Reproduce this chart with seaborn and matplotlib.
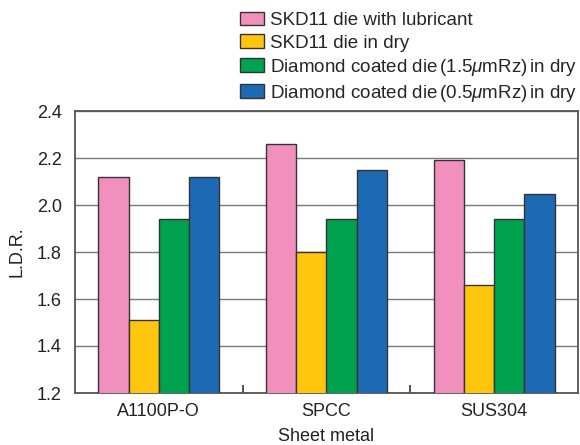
import pandas as pd
import numpy as np
import matplotlib.pyplot as plt
import seaborn as sns
from matplotlib.ticker import FixedLocator

sns.set_theme(style="white")
plt.rcParams['font.family'] = ['Liberation Sans', 'DejaVu Sans']
plt.rcParams['mathtext.fontset'] = 'custom'
plt.rcParams['mathtext.it'] = 'Liberation Sans:italic'
plt.rcParams['mathtext.rm'] = 'Liberation Sans'

# data
metals = ["A1100P-O", "SPCC", "SUS304"]
conditions = [
    "SKD11 die with lubricant",
    "SKD11 die in dry",
    "Diamond coated die$\\,$(1.5$\\mu$mRz)$\\,$in dry",
    "Diamond coated die$\\,$(0.5$\\mu$mRz)$\\,$in dry",
]
ldr_lubricant = [2.12, 2.26, 2.19]
ldr_skd11_dry = [1.51, 1.80, 1.66]
ldr_diamond_15 = [1.94, 1.94, 1.94]
ldr_diamond_05 = [2.12, 2.15, 2.045]
colors = ["#F290BD", "#FFC60D", "#00A250", "#1E69B4"]

rows = []
for cond, vals in zip(conditions, [ldr_lubricant, ldr_skd11_dry, ldr_diamond_15, ldr_diamond_05]):
    for m, v in zip(metals, vals):
        rows.append({"metal": m, "condition": cond, "ldr": v})
df = pd.DataFrame(rows)

fig = plt.figure(figsize=(5.8, 4.45), dpi=100)
ax = fig.add_axes([75/580, 1-393/445, 503/580, 282/445])

sns.barplot(data=df, x="metal", y="ldr", hue="condition", hue_order=conditions,
            palette=colors, width=0.72, edgecolor="#333333", linewidth=1.0,
            saturation=1, ax=ax, zorder=3, legend=True)

ax.set_ylim(1.2, 2.4)
ax.set_xlim(-0.5, 2.5)
ax.set_yticks(np.arange(1.2, 2.41, 0.2))
ax.set_yticklabels([f"{t:.1f}" for t in np.arange(1.2, 2.41, 0.2)])
ax.yaxis.grid(True, color="#7a7a7a", linewidth=1.0, zorder=0)
ax.set_axisbelow(True)
ax.xaxis.set_minor_locator(FixedLocator([0.5, 1.5]))
ax.tick_params(axis="x", which="minor", direction="in", length=6, width=1.2, color="#333333", bottom=True)
ax.tick_params(axis="x", which="major", length=0, labelsize=13, colors="#222222", pad=7)
ax.tick_params(axis="y", length=0, labelsize=13, colors="#222222", pad=9.5)
for s in ax.spines.values():
    s.set_color("#555555")
    s.set_linewidth(1.3)

ax.set_xlabel("Sheet metal", fontsize=13, color="#222222", labelpad=6)
ax.set_ylabel("L.D.R.", fontsize=13, color="#222222", labelpad=8)

handles, labels = ax.get_legend_handles_labels()
ax.get_legend().remove()
fig.legend(handles, labels, loc="upper left", bbox_to_anchor=(234/580, 1 - 6/445),
           frameon=False, fontsize=13.5, handlelength=1.28, handleheight=0.75,
           handletextpad=0.36, labelspacing=0.27, borderaxespad=0, borderpad=0.3)

plt.savefig("out.png", dpi=100)
